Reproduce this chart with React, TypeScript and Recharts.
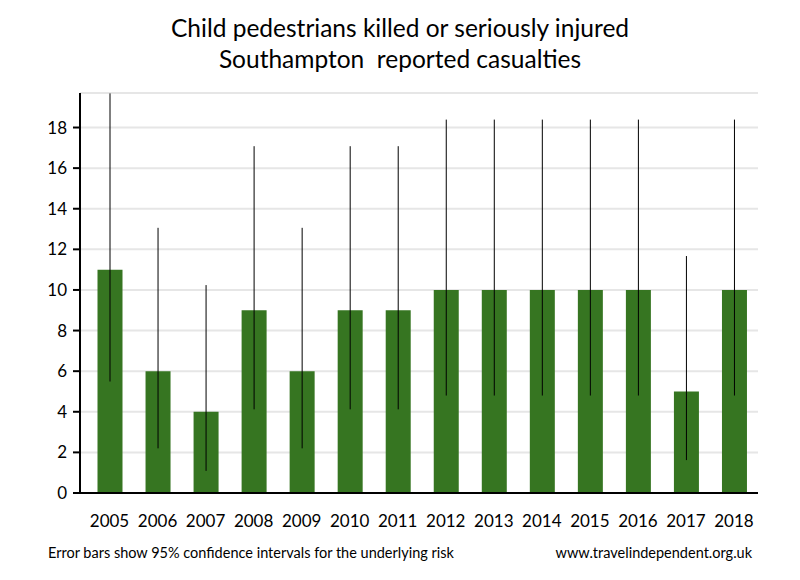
import React from 'react';
import { BarChart, Bar, XAxis, YAxis, CartesianGrid, ErrorBar } from 'recharts';

const years = ['2005', '2006', '2007', '2008', '2009', '2010', '2011', '2012', '2013', '2014', '2015', '2016', '2017', '2018'];
const casualties = [11, 6, 4, 9, 6, 9, 9, 10, 10, 10, 10, 10, 5, 10];
const lower95 = [5.49, 2.2, 1.09, 4.12, 2.2, 4.12, 4.12, 4.8, 4.8, 4.8, 4.8, 4.8, 1.62, 4.8];
const upper95 = [19.68, 13.06, 10.24, 17.08, 13.06, 17.08, 17.08, 18.39, 18.39, 18.39, 18.39, 18.39, 11.67, 18.39];
const yTicks = [0, 2, 4, 6, 8, 10, 12, 14, 16, 18];

const data = years.map((year, i) => ({
  year,
  value: casualties[i],
  err: [casualties[i] - lower95[i], upper95[i] - casualties[i]],
}));

const FONT = 'Lato, "Open Sans", sans-serif';

export default function App() {
  return (
    <div style={{ position: 'absolute', left: 0, top: 0, width: 800, height: 580, background: '#fff', fontFamily: FONT, color: '#000' }}>
      <div style={{ position: 'absolute', left: 0, top: 12, width: 800, textAlign: 'center', fontSize: 24.5, lineHeight: '31px' }}>
        <div>Child pedestrians killed or seriously injured</div>
        <div>Southampton&nbsp; reported casualties</div>
      </div>

      <BarChart
        width={800}
        height={580}
        data={data}
        margin={{ top: 93, right: 42, bottom: 57, left: 0 }}
        barSize={25}
        style={{ position: 'absolute', left: 0, top: 0 }}
      >
        <CartesianGrid vertical={false} stroke="#e6e6e6" strokeWidth={2} />
        <XAxis
          dataKey="year"
          height={30}
          padding={{ left: 5.5, right: 0 }}
          tickLine={false}
          tickSize={0}
          tickMargin={22}
          axisLine={{ stroke: '#000', strokeWidth: 2 }}
          tick={{ fill: '#000', fontSize: 17, fontFamily: FONT }}
          interval={0}
        />
        <YAxis
          width={80}
          domain={[0, 19.7]}
          ticks={yTicks}
          allowDataOverflow
          tickSize={7}
          tickMargin={6}
          axisLine={{ stroke: '#000', strokeWidth: 2 }}
          tickLine={{ stroke: '#000', strokeWidth: 2 }}
          tick={{ fill: '#000', fontSize: 17, fontFamily: FONT }}
        />
        <Bar dataKey="value" fill="#367521" isAnimationActive={false}>
          <ErrorBar dataKey="err" width={0} stroke="#000" strokeWidth={1} direction="y" />
        </Bar>
      </BarChart>

      <div style={{ position: 'absolute', left: 48, top: 544, fontSize: 14.5 }}>
        Error bars show 95% confidence intervals for the underlying risk
      </div>
      <div style={{ position: 'absolute', right: 48, top: 544, fontSize: 14.5 }}>
        www.travelindependent.org.uk
      </div>
    </div>
  );
}
